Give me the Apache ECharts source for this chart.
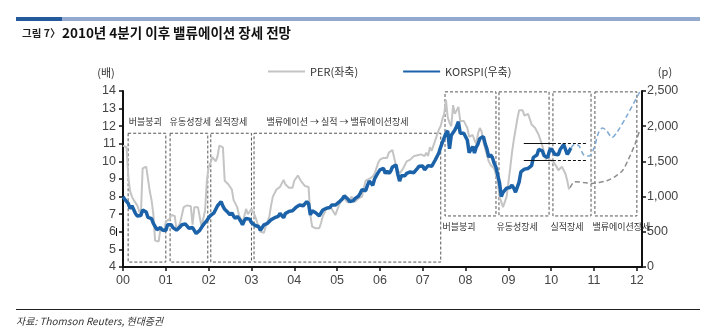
<!DOCTYPE html>
<html><head><meta charset="utf-8">
<script src="https://cdn.jsdelivr.net/npm/echarts@6/dist/echarts.min.js"></script>
<style>html,body{margin:0;padding:0;background:#fff}#c{width:707px;height:328px}</style>
</head><body><div id="c"></div>
<script>
// ---------- data ----------
const yearTicks = [2000,2001,2002,2003,2004,2005,2006,2007,2008,2009,2010,2011,2012];
const tickLabels = ['00','01','02','03','04','05','06','07','08','09','10','11','12'];
const seriesStartYear = 2000;
const samplesPerYear = 24; // semi-monthly observations

const perValues = [
 10.9,10.9,10.8,9.1,8.3,8.0,7.8,7.7,7.5,7.2,6.9,9.6,9.7,9.7,9.7,8.3,7.8,7.0,5.5,5.45,5.45,6.2,6.1,6.0,
 6.6,6.6,6.7,6.95,6.95,6.9,6.1,6.1,6.5,6.5,7.4,7.5,7.5,7.5,7.45,6.4,7.4,7.4,7.4,7.3,6.3,6.4,7.2,8.9,
 9.7,9.9,10.25,10.2,10.0,10.3,10.9,10.9,10.8,8.9,8.9,8.7,8.6,8.4,7.8,7.6,7.4,6.95,7.0,6.5,6.9,7.3,7.0,6.9,
 7.3,7.2,6.9,6.6,6.2,6.0,5.9,5.95,6.3,6.4,6.85,7.5,8.0,8.0,8.4,8.4,8.55,8.6,8.95,8.7,8.65,8.5,8.5,8.5,
 8.9,8.95,9.2,9.25,8.85,8.85,8.6,8.6,8.55,6.95,6.3,6.25,6.2,6.2,6.2,6.5,6.9,7.1,7.3,7.4,7.45,7.3,7.25,6.95,
 7.0,7.5,7.7,7.8,7.9,7.8,7.65,7.8,8.0,8.0,7.7,7.6,7.9,8.0,8.0,8.5,8.9,8.9,9.0,9.1,9.15,9.3,9.6,9.9,
 10.1,10.0,10.2,10.3,10.2,10.5,10.6,10.65,10.2,9.8,9.5,9.3,9.35,9.6,9.7,10.0,10.05,10.1,10.2,10.3,10.4,10.35,10.3,10.4,
 10.4,10.3,10.5,10.3,10.8,10.6,10.9,11.2,11.5,11.8,12.0,12.4,12.7,13.5,12.5,12.2,12.0,13.2,12.7,12.9,13.1,12.3,12.4,12.3,
 12.4,11.9,11.4,11.3,11.5,11.2,11.0,11.6,11.9,11.7,11.1,10.7,10.6,10.0,9.8,9.7,9.6,9.5,8.9,8.0,7.7,7.4,7.5,8.0,
 8.8,9.6,10.5,11.2,11.8,12.4,12.9,13.0,12.9,12.6,12.5,12.7,12.6,12.1,12.2,11.9,11.9,11.5,11.4,10.9,10.5,10.1,10.3,10.1,
 10.2,10.0,9.9,9.7,9.5,9.6,9.7,9.5,9.3,8.9,8.4
];

const kospiValues = [
 1000,960,943,900,828,870,860,760,725,700,731,810,822,780,705,720,688,620,613,530,514,560,526,520,
 520,600,615,600,560,540,523,540,570,600,590,610,595,550,541,560,545,475,480,520,540,600,630,660,
 700,730,750,770,790,870,900,930,865,820,800,770,740,770,720,690,720,690,650,600,660,690,690,680,
 630,620,590,590,575,520,535,600,600,620,630,670,670,700,720,720,760,730,700,760,780,790,800,800,
 810,850,850,880,880,870,880,930,900,740,800,780,770,750,725,770,810,830,835,860,845,880,870,880,
 896,920,930,970,1010,990,965,930,910,940,970,990,1008,1050,1100,1100,1083,1160,1220,1190,1160,1250,1297,1340,
 1379,1400,1400,1330,1365,1330,1360,1420,1420,1450,1320,1220,1295,1270,1297,1330,1352,1350,1371,1340,1364,1400,1432,1420,
 1434,1380,1360,1440,1417,1430,1453,1520,1542,1620,1700,1770,1743,1900,1933,1680,1873,1900,1946,2000,2064,1900,1906,1900,
 1897,1800,1624,1650,1711,1620,1704,1750,1825,1850,1852,1750,1674,1560,1594,1560,1474,1420,1448,1200,1000,1060,1076,1120,
 1124,1130,1162,1120,1063,1050,1206,1350,1369,1390,1395,1400,1390,1440,1557,1580,1591,1670,1673,1650,1580,1560,1555,1650,
 1682,1700,1602,1580,1594,1670,1692,1740,1741,1600,1641,1690
];

const kospiForecastYears = [2010.46,2010.55,2010.65,2010.76,2010.88,2011.0,2011.1,2011.2,2011.3,2011.42,2011.53,2011.75,2012.07];
const kospiForecastValues = [1690,1745,1720,1590,1575,1690,1900,1975,1930,1840,1910,2130,2490];
const perForecastYears = [2010.44,2010.55,2010.75,2010.95,2011.1,2011.3,2011.5,2011.67,2011.8,2011.96,2012.07];
const perForecastValues = [8.5,8.85,8.8,8.75,8.8,8.9,9.15,9.5,10.1,11.0,11.8];

const phaseLabels = ['버블붕괴','유동성장세','실적장세','밸류에이션 → 실적 → 밸류에이션장세','버블붕괴','유동성장세','실적장세','밸류에이션장세'];
const phaseFrom = [2000.12,2001.10,2002.05,2003.06,2007.52,2008.78,2010.04,2011.02];
const phaseTo   = [2001.00,2001.98,2003.00,2007.42,2008.71,2009.95,2010.93,2012.00];
const phaseTopPER    = [11.6,11.6,11.6,11.6,13.95,13.95,13.95,13.95];
const phaseBottomPER = [4.28,4.28,4.28,4.28,6.9,6.9,6.9,6.9];

const rangeLevels = [1760,1520];
const rangeSolidFrom = 2009.36, rangeSolidTo = 2010.04, rangeDashedTo = 2010.83;

// ---------- styles ----------
const FONT = "'Noto Sans CJK KR', sans-serif";
const NUMFONT = "'Liberation Sans', Arial, sans-serif";
const phaseLabelPos = [[1,-16],[0,-16],[4,-16],[13,-16],[-2,131],[-2,131],[-2,131],[-2,131]];

const toXY = (vals) => vals.map((v,i) => [seriesStartYear + i / samplesPerYear, v]);
const zip = (xs, ys) => xs.map((x,i) => [x, ys[i]]);

const markAreaData = phaseLabels.map((lab,i) => [
  { name: lab, coord: [phaseFrom[i], phaseTopPER[i]],
    label: { position: phaseLabelPos[i] } },
  { coord: [phaseTo[i], phaseBottomPER[i]] }
]);

const markLineData = [];
rangeLevels.forEach(v => {
  markLineData.push([{ coord:[rangeSolidFrom, v], lineStyle:{ type:'solid' } }, { coord:[rangeSolidTo, v] }]);
  markLineData.push([{ coord:[rangeSolidTo, v], lineStyle:{ type:[3,2] } }, { coord:[rangeDashedTo, v] }]);
});

const chart = echarts.init(document.getElementById('c'), null, { renderer: 'canvas' });
chart.setOption({
  animation: false,
  backgroundColor: '#fff',
  textStyle: { fontFamily: FONT },
  grid: { left: 123, right: 65, top: 91, bottom: 61 },
  legend: {
    left: 263, top: 61, itemWidth: 37, itemHeight: 2, itemGap: 45,
    textStyle: { fontSize: 11, color: '#333', fontFamily: FONT },
    data: [{ name: 'PER(좌축)', icon: 'rect' }, { name: 'KORSPI(우축)', icon: 'rect' }]
  },
  xAxis: {
    type: 'value', min: 2000, max: 2012.12,
    splitLine: { show: false },
    axisLine: { lineStyle: { color: '#111', width: 2 } },
    axisTick: { length: 4, lineStyle: { color: '#111', width: 1.5 }, customValues: yearTicks },
    axisLabel: { customValues: yearTicks, color: '#444', fontSize: 12.5, fontFamily: NUMFONT, margin: 7,
      formatter: v => tickLabels[yearTicks.indexOf(Math.round(v))] || '' }
  },
  yAxis: [
    { type: 'value', min: 4, max: 14, interval: 1, position: 'left',
      splitLine: { show: false },
      axisLine: { show: true, lineStyle: { color: '#111', width: 2 } },
      axisTick: { show: true, length: 4, lineStyle: { color: '#111', width: 1.5 } },
      axisLabel: { color: '#444', fontSize: 12.5, fontFamily: NUMFONT, margin: 7 } },
    { type: 'value', min: 0, max: 2500, interval: 500, position: 'right',
      splitLine: { show: false },
      axisLine: { show: true, lineStyle: { color: '#111', width: 2 } },
      axisTick: { show: true, length: 4, lineStyle: { color: '#111', width: 1.5 } },
      axisLabel: { color: '#444', fontSize: 12.5, fontFamily: NUMFONT, margin: 5,
        formatter: v => v.toLocaleString('en-US') } }
  ],
  series: [
    { name: 'PER(좌축)', type: 'line', yAxisIndex: 0, color: '#c4c4c4',
      showSymbol: false, symbol: 'none', data: toXY(perValues),
      lineStyle: { color: '#c4c4c4', width: 2 }, z: 2,
      markArea: { silent: true,
        itemStyle: { color: 'rgba(0,0,0,0)', borderColor: '#555', borderWidth: 1, borderType: [3,2] },
        label: { show: true, color: '#333', fontSize: 9, fontFamily: FONT },
        data: markAreaData } },
    { name: 'PER전망', type: 'line', yAxisIndex: 0, showSymbol: false, symbol: 'none',
      data: zip(perForecastYears, perForecastValues), smooth: 0.3,
      lineStyle: { color: '#8c8c8c', width: 1.5, type: [5,3] }, z: 2 },
    { name: 'KORSPI전망', type: 'line', yAxisIndex: 1, showSymbol: false, symbol: 'none',
      data: zip(kospiForecastYears, kospiForecastValues), smooth: 0.3,
      lineStyle: { color: '#7ea9d3', width: 1.5, type: [5,3] }, z: 3 },
    { name: 'KORSPI(우축)', type: 'line', yAxisIndex: 1, color: '#1b62a8',
      showSymbol: false, symbol: 'none', data: toXY(kospiValues),
      lineStyle: { color: '#1b62a8', width: 3.5 }, z: 4,
      markLine: { silent: true, symbol: ['none','none'], label: { show: false },
        lineStyle: { color: '#111', width: 1 }, data: markLineData } }
  ],
  graphic: [
    { type: 'rect', shape: { x: 16, y: 17, width: 46, height: 4 }, style: { fill: '#245a9c' } },
    { type: 'rect', shape: { x: 62, y: 17, width: 638, height: 4 }, style: { fill: '#93a9cd' } },
    { type: 'text', x: 22, y: 33, style: { text: '그림 7〉', font: "bold 10.5px 'Noto Sans CJK KR'", fill: '#222', verticalAlign: 'middle' } },
    { type: 'text', x: 62, y: 33, style: { text: '2010년 4분기 이후 밸류에이션 장세 전망', font: "bold 13.5px 'Noto Sans CJK KR'", fill: '#111', verticalAlign: 'middle' } },
    { type: 'text', x: 106, y: 73, style: { text: '(배)', font: "11px 'Noto Sans CJK KR'", fill: '#333', align: 'center', verticalAlign: 'middle' } },
    { type: 'text', x: 665, y: 72, style: { text: '(p)', font: "11px 'Noto Sans CJK KR'", fill: '#333', align: 'center', verticalAlign: 'middle' } },
    { type: 'line', shape: { x1: 116.5, y1: 228, x2: 116.5, y2: 236 }, style: { stroke: '#111', lineWidth: 1 } },
    { type: 'line', shape: { x1: 16, y1: 309.5, x2: 700, y2: 309.5 }, style: { stroke: '#222', lineWidth: 1 } },
    { type: 'text', x: 16, y: 321, style: { text: '자료: Thomson Reuters, 현대증권', font: "italic 10px 'Noto Sans CJK KR'", fill: '#333', verticalAlign: 'middle' } }
  ]
});
</script></body></html>
